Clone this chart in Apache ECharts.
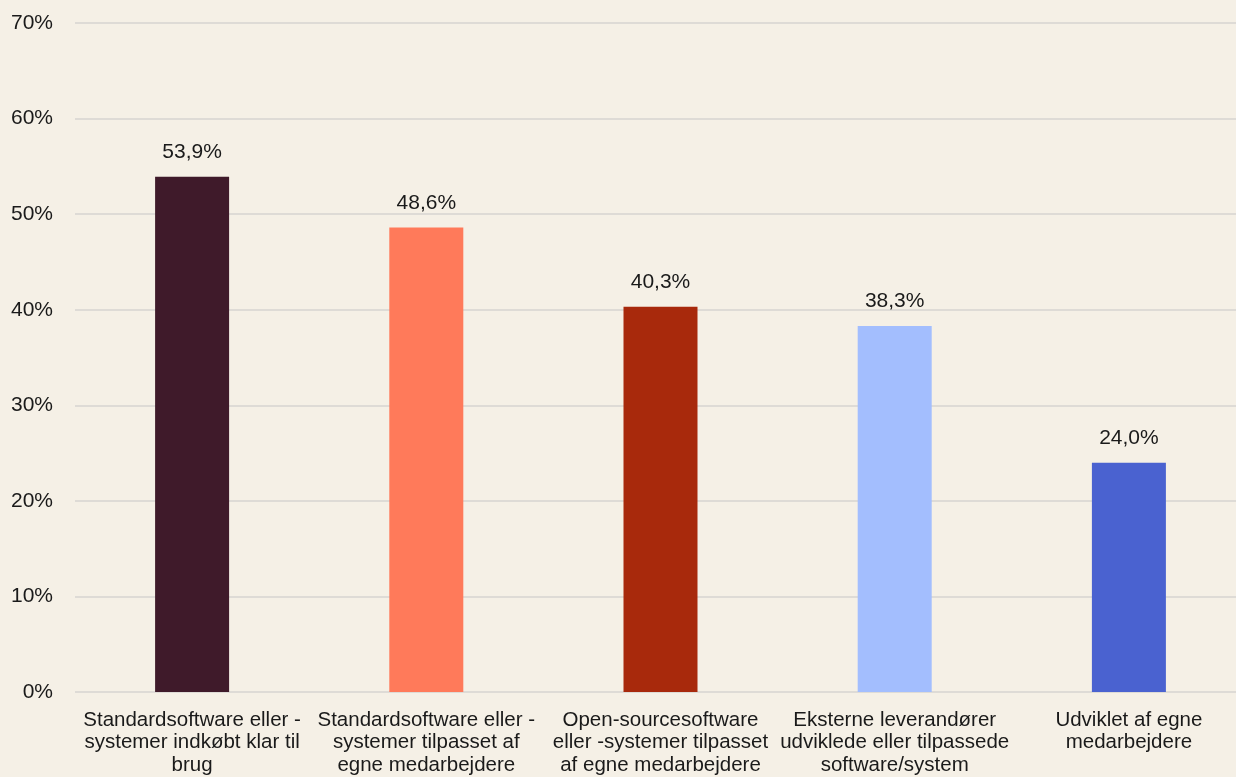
<!DOCTYPE html>
<html>
<head>
<meta charset="utf-8">
<script src="https://cdn.jsdelivr.net/npm/echarts@6/dist/echarts.min.js"></script>
<style>
  html, body { margin: 0; padding: 0; background: #f5f0e6; overflow: hidden; }
  /* the plot runs a little past the right edge of the page */
  #chart { width: 1246px; height: 777px; }
</style>
</head>
<body>
<div id="chart"></div>
<script>
// Categories (line breaks as set in the axis labels)
const categories = [
  'Standardsoftware eller -\nsystemer indkøbt klar til\nbrug',
  'Standardsoftware eller -\nsystemer tilpasset af\negne medarbejdere',
  'Open-sourcesoftware\neller -systemer tilpasset\naf egne medarbejdere',
  'Eksterne leverandører\nudviklede eller tilpassede\nsoftware/system',
  'Udviklet af egne\nmedarbejdere'
];
// Share of companies, percent
const values = [53.9, 48.6, 40.3, 38.3, 24.0];
const barColors = ['#3f1a2a', '#ff7a5a', '#a8290c', '#a3befe', '#4a62d0'];

const fontFamily = '"Liberation Sans", Arial, sans-serif';
const chart = echarts.init(document.getElementById('chart'));
chart.setOption({
  backgroundColor: '#f5f0e6',
  animation: false,
  grid: { left: 75, right: 0, top: 23, bottom: 85, containLabel: false },
  xAxis: {
    type: 'category',
    data: categories,
    axisLine: { show: false },
    axisTick: { show: false },
    axisLabel: {
      interval: 0,
      margin: 17,
      color: '#1a1a1a',
      fontSize: 20.5,
      lineHeight: 22.5,
      fontFamily: fontFamily
    }
  },
  yAxis: {
    type: 'value',
    min: 0,
    max: 70,
    interval: 10,
    axisLine: { show: false },
    axisTick: { show: false },
    axisLabel: {
      formatter: '{value}%',
      margin: 22,
      color: '#1a1a1a',
      fontSize: 21,
      fontFamily: fontFamily
    },
    splitLine: { lineStyle: { color: '#dedbd6', width: 2 } }
  },
  series: [{
    type: 'bar',
    barWidth: 74,
    data: values.map((v, i) => ({ value: v, itemStyle: { color: barColors[i] } })),
    label: {
      show: true,
      position: 'top',
      distance: 14,
      color: '#1a1a1a',
      fontSize: 21,
      fontFamily: fontFamily,
      formatter: p => p.value.toFixed(1).replace('.', ',') + '%'
    }
  }]
});
</script>
</body>
</html>
